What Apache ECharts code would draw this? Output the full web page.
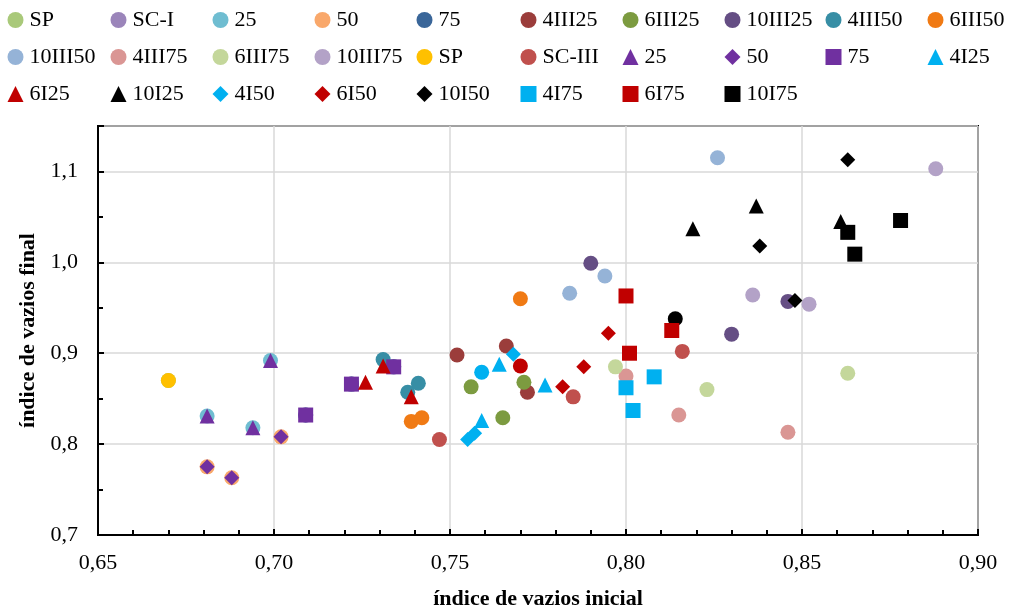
<!DOCTYPE html>
<html>
<head>
<meta charset="utf-8">
<title>indice de vazios</title>
<script src="https://cdn.jsdelivr.net/npm/echarts@6/dist/echarts.min.js"></script>
<style>
    html, body { margin: 0; padding: 0; background-color: #fff; }
    #chart { width: 1014px; height: 616px; }
</style>
</head>
<body>
<div id="chart"></div>
<script>
// axis ticks
var xTicks = [0.65, 0.70, 0.75, 0.80, 0.85, 0.90];
var yTicks = [0.7, 0.8, 0.9, 1.0, 1.1];

// data [indice inicial, indice final]
var spA     = [[0.670, 0.870]];
var scI     = [[0.709, 0.832], [0.722, 0.866], [0.734, 0.885]];
var c25     = [[0.681, 0.831], [0.694, 0.818], [0.699, 0.892]];
var c50     = [[0.681, 0.775], [0.688, 0.763], [0.702, 0.808]];
var c75     = [[0.709, 0.832], [0.722, 0.866], [0.734, 0.885]];
var d4III25 = [[0.752, 0.898], [0.766, 0.908], [0.772, 0.857]];
var d6III25 = [[0.756, 0.863], [0.765, 0.829], [0.771, 0.868]];
var d10III25 = [[0.790, 0.999], [0.830, 0.921], [0.846, 0.957]];
var d4III50 = [[0.731, 0.893], [0.738, 0.857], [0.741, 0.867]];
var d6III50 = [[0.739, 0.825], [0.742, 0.829], [0.770, 0.960]];
var d10III50 = [[0.826, 1.115], [0.794, 0.985], [0.784, 0.966]];
var d4III75 = [[0.800, 0.875], [0.815, 0.832], [0.846, 0.813]];
var d6III75 = [[0.797, 0.885], [0.823, 0.860], [0.863, 0.878]];
var d10III75 = [[0.836, 0.964], [0.852, 0.954], [0.888, 1.103]];
var spB     = [[0.670, 0.870]];
var scIII   = [[0.747, 0.805], [0.785, 0.852], [0.816, 0.902]];
var t25     = [[0.681, 0.831], [0.694, 0.818], [0.699, 0.892]];
var d50     = [[0.681, 0.775], [0.688, 0.763], [0.702, 0.808]];
var s75     = [[0.709, 0.832], [0.722, 0.866], [0.734, 0.885]];
var d4I25   = [[0.764, 0.888], [0.759, 0.826], [0.777, 0.865]];
var d6I25   = [[0.726, 0.868], [0.731, 0.886], [0.739, 0.852]];
var d10I25  = [[0.819, 1.037], [0.837, 1.062], [0.861, 1.045]];
var d4I50   = [[0.755, 0.805], [0.757, 0.812], [0.768, 0.899]];
var d6I50   = [[0.782, 0.863], [0.788, 0.885], [0.795, 0.922]];
var d10I50  = [[0.863, 1.113], [0.838, 1.018], [0.848, 0.958]];
var d4I75   = [[0.800, 0.862], [0.802, 0.837], [0.808, 0.874]];
var d6I75   = [[0.800, 0.963], [0.801, 0.900], [0.813, 0.925]];
var d10I75  = [[0.878, 1.046], [0.863, 1.033], [0.865, 1.009]];
// circles without legend entry
var o4I  = [[0.759, 0.879]];
var o6I  = [[0.770, 0.886]];
var o10I = [[0.814, 0.938]];

var font = "'Times New Roman', 'Liberation Serif', serif";

// name, symbol, color, data  (second SP/25/50/75 get a trailing space so the legend keeps them apart)
var defs = [
    ['SP', 'circle', '#A9C97A', spA],
    ['SC-I', 'circle', '#9B85BA', scI],
    ['25', 'circle', '#6FBDD1', c25],
    ['50', 'circle', '#F9A86B', c50],
    ['75', 'circle', '#3A6699', c75],
    ['4III25', 'circle', '#9B3D3B', d4III25],
    ['6III25', 'circle', '#7C9B40', d6III25],
    ['10III25', 'circle', '#654E84', d10III25],
    ['4III50', 'circle', '#378EA5', d4III50],
    ['6III50', 'circle', '#F07A14', d6III50],
    ['10III50', 'circle', '#95B3D7', d10III50],
    ['4III75', 'circle', '#DA9694', d4III75],
    ['6III75', 'circle', '#C4D79B', d6III75],
    ['10III75', 'circle', '#B3A2C7', d10III75],
    ['SP ', 'circle', '#FFC000', spB],
    ['SC-III', 'circle', '#C0504D', scIII],
    ['25 ', 'triangle', '#7030A0', t25],
    ['50 ', 'diamond', '#7030A0', d50],
    ['75 ', 'rect', '#7030A0', s75],
    ['4I25', 'triangle', '#00B0F0', d4I25],
    ['6I25', 'triangle', '#C00000', d6I25],
    ['10I25', 'triangle', '#000000', d10I25],
    ['4I50', 'diamond', '#00B0F0', d4I50],
    ['6I50', 'diamond', '#C00000', d6I50],
    ['10I50', 'diamond', '#000000', d10I50],
    ['4I75', 'rect', '#00B0F0', d4I75],
    ['6I75', 'rect', '#C00000', d6I75],
    ['10I75', 'rect', '#000000', d10I75]
];
var extra = [
    ['o4I', 'circle', '#00B0F0', o4I],
    ['o6I', 'circle', '#C00000', o6I],
    ['o10I', 'circle', '#000000', o10I]
];

var series = extra.concat(defs).map(function (d) {
    return {
        name: d[0],
        type: 'scatter',
        symbol: d[1],
        symbolSize: 15,
        itemStyle: { color: d[2], opacity: 1 },
        data: d[3],
        emphasis: { disabled: true }
    };
});

// legend: 10 columns, 3 rows
var colLeft = [7.5, 110.5, 212.5, 314.5, 416.5, 520.5, 622.5, 724.5, 825.5, 927.5];
var legendNames = defs.map(function (d) { return d[0]; });
var legends = colLeft.map(function (left, i) {
    return {
        orient: 'vertical',
        left: left,
        top: 9,
        padding: 0,
        itemGap: 15,
        itemWidth: 16,
        itemHeight: 16,
        selectedMode: false,
        textStyle: { fontFamily: font, fontSize: 22, lineHeight: 22, color: '#000', padding: [0, 0, 0, 1] },
        data: legendNames.filter(function (n, k) { return k % 10 === i; })
    };
});

function black() { return { color: '#000', width: 2 }; }
function gray() { return { color: '#D9D9D9', width: 1.5 }; }

var myChart = echarts.init(document.getElementById('chart'));
var option = {
    animation: false,
    legend: legends,
    // plot area frame
    grid: { left: 98, right: 36, top: 126, bottom: 81, show: true, borderColor: '#000', borderWidth: 2 },
    xAxis: [{
        type: 'value', min: xTicks[0], max: xTicks[xTicks.length - 1], interval: 0.05, position: 'bottom',
        name: 'índice de vazios inicial', nameLocation: 'middle', nameGap: 53,
        nameTextStyle: { fontFamily: font, fontSize: 22, fontWeight: 'bold', color: '#000' },
        axisLine: { show: true, onZero: false, lineStyle: black() },
        axisTick: { show: true, inside: true, length: 6, lineStyle: black() },
        minorTick: { show: true, splitNumber: 5, length: 5, lineStyle: black() },
        axisLabel: {
            margin: 17, fontFamily: font, fontSize: 22, color: '#000',
            formatter: function (v) { return v.toFixed(2).replace('.', ','); }
        },
        splitLine: { show: true, lineStyle: gray() }
    }],
    yAxis: [{
        type: 'value', min: yTicks[0], max: 1.15, interval: 0.1, position: 'left',
        name: 'índice de vazios final', nameLocation: 'middle', nameGap: 57,
        nameTextStyle: { fontFamily: font, fontSize: 22, fontWeight: 'bold', color: '#000' },
        axisLine: { show: true, onZero: false, lineStyle: black() },
        axisTick: { show: true, inside: true, length: 6, lineStyle: black() },
        minorTick: { show: true, splitNumber: 2, length: 5, lineStyle: black() },
        axisLabel: {
            margin: 20, fontFamily: font, fontSize: 22, color: '#000',
            formatter: function (v) {
                return v > yTicks[yTicks.length - 1] + 0.01 ? '' : v.toFixed(1).replace('.', ',');
            }
        },
        splitLine: { show: true, lineStyle: gray() }
    }],
    series: series
};
myChart.setOption(option);
</script>
</body>
</html>
